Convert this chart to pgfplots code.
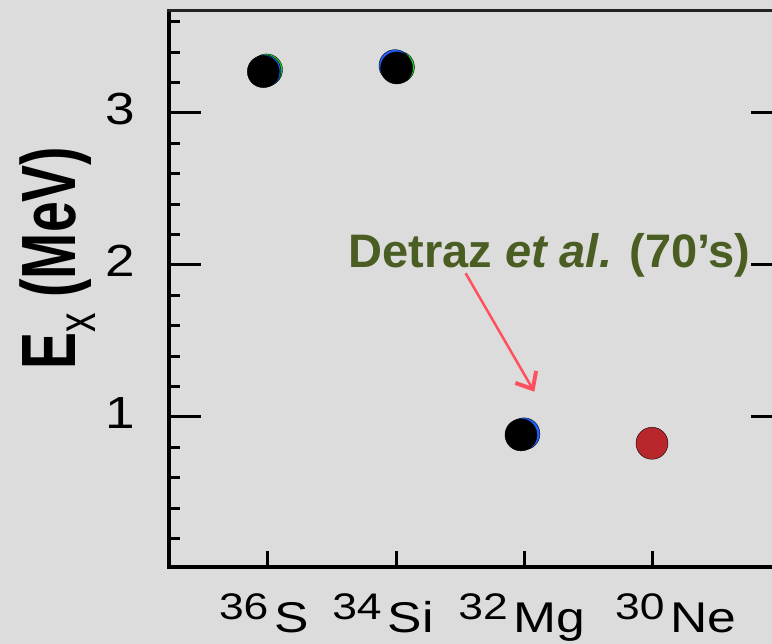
\documentclass[border=0pt]{standalone}
\usepackage{pgfplots}
\pgfplotsset{compat=1.18}
\usepackage{fontspec}
\setmainfont{Liberation Sans}
\usetikzlibrary{arrows.meta}
\definecolor{bg}{RGB}{220,220,220}
\definecolor{olive}{RGB}{74,94,35}
\definecolor{pinkred}{RGB}{255,80,96}
\definecolor{nered}{RGB}{184,39,44}
\definecolor{mkblue}{RGB}{32,96,255}
\definecolor{mkgreen}{RGB}{32,208,32}
\definecolor{darkline}{RGB}{35,35,35}
\newcommand{\iso}[2]{\scalebox{1.2}[1]{{\fontsize{37}{37}\selectfont\raisebox{13pt}{#1}}\hspace{5pt}{\fontsize{43}{43}\selectfont #2}}}
\begin{document}
\begin{tikzpicture}
\fill[bg] (0,0) rectangle (772pt,644pt);
\begin{axis}[
  at={(169pt,77pt)}, anchor=south west, scale only axis,
  width=614pt, height=556.5pt,
  xmin=0.230, xmax=5.015, ymin=0.013, ymax=3.674,
  clip=false,
  axis line style={line width=3.5pt, black},
  xtick={1,2,3,4}, xticklabels={}, xtick pos=bottom,
  ytick={1,2,3},
  minor ytick={0.2,0.4,0.6,0.8,1.2,1.4,1.6,1.8,2.2,2.4,2.6,2.8,3.2,3.4,3.6},
  tick align=inside,
  major tick length=16pt, minor tick length=11pt,
  tick style={line width=3pt, black},
  /pgf/number format/assume math mode=true,
  yticklabel={\scalebox{1.18}[1]{\pgfmathprintnumber{\tick}}},
  yticklabel style={font=\fontsize{45}{45}\selectfont, inner sep=0pt, xshift=-34pt, yshift=4pt},
  ylabel={\scalebox{0.72}[1]{\fontsize{77}{77}\selectfont\bfseries E\textsubscript{\mdseries x} (MeV)}},
  ylabel style={at={(rel axis cs:-0.181,0.555)}, anchor=center, inner sep=0pt},
]
\addplot[only marks, mark=*, mark size=16pt, mark options={draw=none, fill=mkgreen}] coordinates {(0.990,3.283) (2.018,3.301)};
\addplot[only marks, mark=*, mark size=16pt, mark options={draw=none, fill=mkblue}] coordinates {(0.978,3.276) (1.991,3.311) (2.996,0.889)};
\addplot[only marks, mark=*, mark size=16pt, mark options={draw=none, fill=black}] coordinates {(0.965,3.272) (2.004,3.296) (2.973,0.882)};
\addplot[only marks, mark=*, mark size=16pt, mark options={draw=none, fill=nered}] coordinates {(3.994,0.827)};
\node[anchor=base, text=olive, font=\fontsize{47}{47}\selectfont\bfseries, inner sep=0pt] at (axis cs:3.195,1.980) {Detraz \textit{et al.} (70’s)};
\draw[pinkred, line width=2.5pt, -{Straight Barb[length=14pt,width=24pt,line width=4pt]}] (axis cs:2.542,1.945) -- (axis cs:3.077,1.166);
\node[anchor=base, inner sep=0pt] at (axis cs:0.970,-0.421) {\iso{36}{S}};
\node[anchor=base, inner sep=0pt] at (axis cs:1.897,-0.421) {\iso{34}{Si}};
\node[anchor=base, inner sep=0pt] at (axis cs:2.981,-0.421) {\iso{32}{Mg}};
\node[anchor=base, inner sep=0pt] at (axis cs:4.180,-0.421) {\iso{30}{Ne}};
\pgfplotsinvokeforeach{1,2,3}{
  \draw[black, line width=3pt] (axis cs:0.230,#1) -- ++(32pt,0pt);
  \draw[black, line width=3pt] (axis cs:5.015,#1) -- ++(-32pt,0pt);
}
\fill[darkline] (rel axis cs:0,1) ++(-1.75pt,-1.75pt) rectangle ([xshift=10pt,yshift=1.75pt]rel axis cs:1,1);
\end{axis}
\pgfresetboundingbox
\useasboundingbox (0,0) rectangle (772pt,644pt);
\end{tikzpicture}
\end{document}
